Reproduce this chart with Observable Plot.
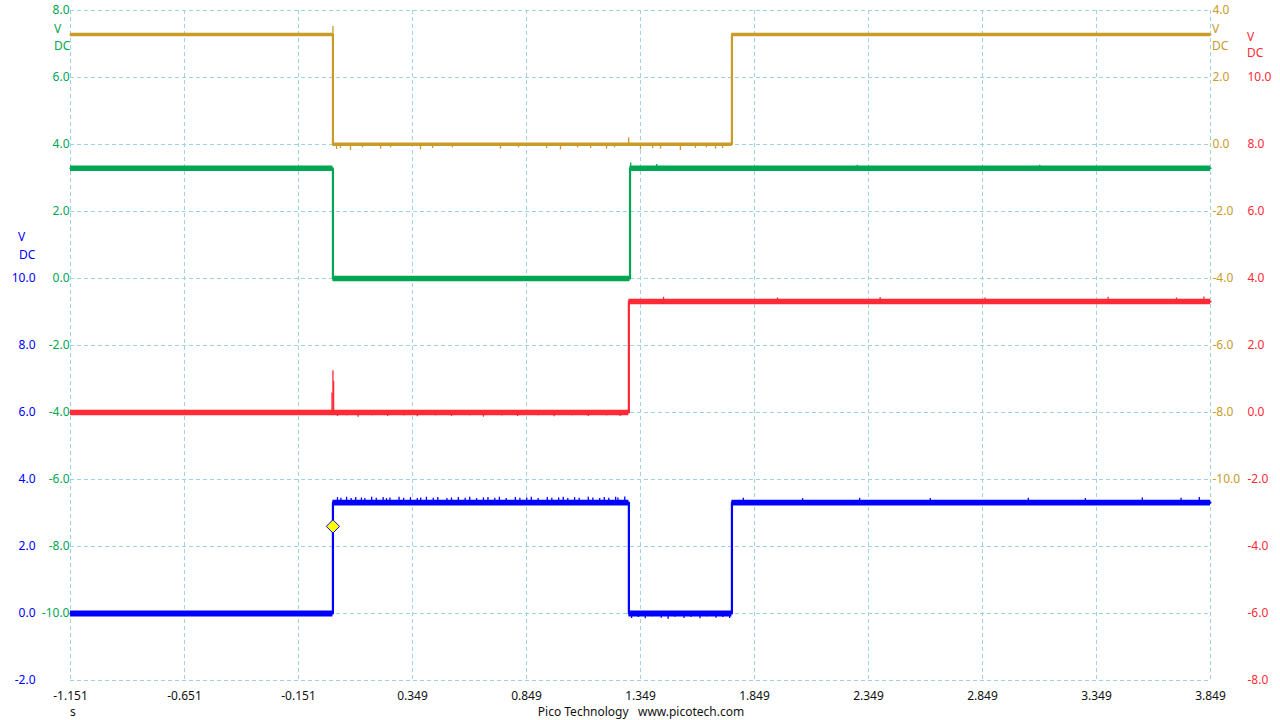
<!DOCTYPE html>
<html><head><meta charset="utf-8">
<script src="https://cdn.jsdelivr.net/npm/d3@7"></script>
<script src="https://cdn.jsdelivr.net/npm/@observablehq/plot@0.6"></script>
<style>
html,body{margin:0;padding:0;background:#fff;}
#chart{position:relative;width:1280px;height:720px;font-family:'Noto Sans','Open Sans',sans-serif;overflow:hidden;}
#chart svg{position:absolute;left:0;top:0;}
.lbl{position:absolute;font-size:12px;line-height:14px;white-space:pre;}
</style></head><body><div id="chart"></div>
<script>
// ---- axes / ticks ----
const timeTicks = [-1.151, -0.651, -0.151, 0.349, 0.849, 1.349, 1.849, 2.349, 2.849, 3.349, 3.849];
const blueTicks = [10, 8, 6, 4, 2, 0, -2];
const greenTicks = [8, 6, 4, 2, 0, -2, -4, -6, -8, -10];
const goldTicks = [4, 2, 0, -2, -4, -6, -8, -10];
const redTicks = [10, 8, 6, 4, 2, 0, -2, -4, -6, -8];
const gridBlue = [-2, 0, 2, 4, 6, 8, 10, 12, 14, 16, 18];

// ---- traces (time s, volts) ----
const goldT = [-1.151, 0.0, 0.0, 1.75, 1.75, 3.849];
const goldV = [3.28, 3.28, 0.01, 0.01, 3.28, 3.28];
const greenT = [-1.151, 0.0, 0.0, 1.303, 1.303, 3.849];
const greenV = [3.29, 3.29, 0.0, 0.0, 3.29, 3.29];
const redT = [-1.151, 1.298, 1.298, 3.849];
const redV = [0.0, 0.0, 3.31, 3.31];
const blueT = [-1.151, 0.0, 0.0, 1.298, 1.298, 1.75, 1.75, 3.849];
const blueV = [0.0, 0.0, 3.31, 3.31, 0.0, 0.0, 3.31, 3.31];

// ---- glitches / noise spikes ----
const goldSpikeT = [0.0, 0.016, 0.033, 0.077, 0.13, 0.209, 0.253, 0.384, 0.437, 0.524, 0.735, 0.814, 0.937, 0.998, 1.073, 1.13, 1.2, 1.235, 1.297, 1.349, 1.402, 1.437, 1.524, 1.59, 1.638, 1.678, 1.709];
const goldSpikeBase = [3.28, 0.01, 0.01, 0.01, 0.01, 0.01, 0.01, 0.01, 0.01, 0.01, 0.01, 0.01, 0.01, 0.01, 0.01, 0.01, 0.01, 0.01, 0.01, 0.01, 0.01, 0.01, 0.01, 0.01, 0.01, 0.01, 0.01];
const goldSpikeV = [3.52, -0.15, -0.12, -0.18, -0.1, -0.14, -0.1, -0.16, -0.12, -0.1, -0.14, -0.1, -0.12, -0.16, -0.1, -0.12, -0.14, -0.1, 0.2, -0.16, -0.12, -0.14, -0.18, -0.12, -0.1, -0.14, -0.12];
const greenSpikeT = [1.306, 1.42, 2.3, 3.1];
const greenSpikeV = [3.45, 3.4, 3.38, 3.38];
const redSpikeT = [-0.004, 0.0, 0.003, 0.02, 0.06, 0.11, 0.17, 0.24, 0.31, 0.37, 0.45, 0.52, 0.6, 0.66, 0.74, 0.81, 0.9, 0.97, 1.05, 1.12, 1.2, 1.26];
const redSpikeV = [0.58, 1.25, 0.93, -0.12, -0.1, -0.14, -0.1, -0.12, -0.1, -0.13, -0.1, -0.12, -0.1, -0.14, -0.1, -0.12, -0.1, -0.13, -0.1, -0.12, -0.1, -0.12];
const redHighSpikeT = [1.45, 1.95, 2.4, 2.86, 3.4, 3.7, 3.82];
const redHighSpikeV = [3.44, 3.42, 3.43, 3.42, 3.44, 3.42, 3.45];
const blueHighSpikeT = [0.02, 0.035, 0.06, 0.08, 0.1, 0.125, 0.14, 0.17, 0.19, 0.22, 0.235, 0.25, 0.29, 0.31, 0.34, 0.37, 0.385, 0.41, 0.44, 0.46, 0.5, 0.52, 0.55, 0.58, 0.6, 0.63, 0.66, 0.68, 0.71, 0.73, 0.76, 0.8, 0.82, 0.85, 0.87, 0.9, 0.94, 0.96, 0.99, 1.01, 1.03, 1.06, 1.08, 1.12, 1.14, 1.17, 1.19, 1.21, 1.24, 1.25, 1.28, 1.8, 2.06, 2.31, 2.62, 3.05, 3.3, 3.55, 3.72, 3.8];
const blueHighSpikeV = [3.46, 3.44, 3.47, 3.43, 3.46, 3.45, 3.43, 3.47, 3.44, 3.46, 3.43, 3.45, 3.47, 3.44, 3.46, 3.43, 3.45, 3.47, 3.44, 3.46, 3.43, 3.45, 3.46, 3.44, 3.47, 3.43, 3.45, 3.46, 3.44, 3.47, 3.43, 3.46, 3.44, 3.45, 3.47, 3.43, 3.46, 3.44, 3.45, 3.47, 3.43, 3.46, 3.44, 3.47, 3.45, 3.43, 3.46, 3.44, 3.47, 3.45, 3.48, 3.44, 3.43, 3.44, 3.43, 3.44, 3.43, 3.45, 3.44, 3.46];
const blueLowSpikeT = [1.31, 1.34, 1.37, 1.4, 1.44, 1.47, 1.5, 1.54, 1.57, 1.61, 1.64, 1.68, 1.71, 1.74];
const blueLowSpikeV = [-0.15, -0.12, -0.16, -0.1, -0.14, -0.17, -0.11, -0.15, -0.12, -0.16, -0.1, -0.14, -0.12, -0.15];
const trigT = [0.0];
const trigV = [2.6];

// ---- colours ----
const GOLD = "#c99b28", GREEN = "#00a651", RED = "#ff2a36", BLUE = "#0000ff", GRID = "#9fd3df";
const FONT = "'Noto Sans','Open Sans',sans-serif";

function pts(T, V) { return T.map((t, i) => ({t, v: V[i]})); }
function flats(T, V) {
  const s = [];
  for (let i = 0; i + 1 < T.length; i++) if (V[i] === V[i + 1]) s.push({t1: T[i], t2: T[i + 1], v: V[i]});
  return s;
}
function spikes(T, V, base) {
  return T.map((t, i) => ({t, v: V[i], b: Array.isArray(base) ? base[i] : base}));
}
function traceMarks(T, V, color, w) {
  return [
    Plot.line(pts(T, V), {x: "t", y: "v", stroke: color, strokeWidth: 2.2}),
    Plot.ruleY(flats(T, V), {y: "v", x1: "t1", x2: "t2", stroke: color, strokeWidth: w})
  ];
}
function spikeMarks(data, color) {
  return Plot.ruleX(data, {x: "t", y1: "b", y2: "v", stroke: color, strokeWidth: 1.3});
}
function layer(domain, marks) {
  return Plot.plot({
    width: 1280, height: 720,
    marginTop: 10, marginBottom: 40, marginLeft: 70, marginRight: 70,
    x: {domain: [-1.151, 3.849], axis: null},
    y: {domain, axis: null},
    style: {background: "transparent", fontFamily: FONT, fontSize: "12px", overflow: "visible"},
    marks
  });
}
const fmt1 = d => d.toFixed(1);

const base = layer([-2, 18], [
  Plot.ruleX(timeTicks, {x: d => d, stroke: GRID, strokeWidth: 1, strokeDasharray: "4,3"}),
  Plot.ruleY(gridBlue, {y: d => d, stroke: GRID, strokeWidth: 1, strokeDasharray: "4,3"}),
  Plot.axisX(timeTicks, {anchor: "bottom", tickSize: 0, tickPadding: 11, tickFormat: d => d.toFixed(3), fill: "#111", fontSize: 12, label: null}),
  Plot.axisY(blueTicks, {anchor: "left", tickSize: 0, tickPadding: 35, tickFormat: fmt1, fill: BLUE, fontSize: 12, label: null}),
  ...traceMarks(blueT, blueV, BLUE, 5.8),
  spikeMarks(spikes(blueHighSpikeT, blueHighSpikeV, 3.31), BLUE),
  spikeMarks(spikes(blueLowSpikeT, blueLowSpikeV, 0.0), BLUE)
]);
const redLayer = layer([-8, 12], [
  Plot.axisY(redTicks, {anchor: "right", tickSize: 0, tickPadding: 37, tickFormat: fmt1, fill: RED, fontSize: 12, label: null}),
  ...traceMarks(redT, redV, RED, 5.5),
  spikeMarks(spikes(redSpikeT, redSpikeV, 0.0), RED),
  spikeMarks(spikes(redHighSpikeT, redHighSpikeV, 3.31), RED)
]);
const greenLayer = layer([-12, 8], [
  Plot.axisY(greenTicks, {anchor: "left", tickSize: 0, tickPadding: 1, tickFormat: fmt1, fill: GREEN, fontSize: 12, label: null}),
  ...traceMarks(greenT, greenV, GREEN, 5.5),
  spikeMarks(spikes(greenSpikeT, greenSpikeV, 3.29), GREEN)
]);
const goldLayer = layer([-16, 4], [
  Plot.axisY(goldTicks, {anchor: "right", tickSize: 0, tickPadding: 2, tickFormat: fmt1, fill: GOLD, fontSize: 12, label: null}),
  ...traceMarks(goldT, goldV, GOLD, 3.5),
  spikeMarks(spikes(goldSpikeT, goldSpikeV, goldSpikeBase), GOLD)
]);
const trigLayer = layer([-2, 18], [
  Plot.dot(pts(trigT, trigV), {x: "t", y: "v", symbol: "diamond2", r: 6, fill: "#ffff00", stroke: BLUE, strokeWidth: 1})
]);

const chart = document.getElementById("chart");
[base, redLayer, greenLayer, goldLayer, trigLayer].forEach(s => chart.appendChild(s));

const labels = [
  {t: "V", x: 54, y: 22, c: GREEN}, {t: "DC", x: 54, y: 39, c: GREEN},
  {t: "V", x: 1212, y: 22, c: GOLD}, {t: "DC", x: 1212, y: 39, c: GOLD},
  {t: "V", x: 1247, y: 30, c: RED}, {t: "DC", x: 1247, y: 46, c: RED},
  {t: "V", x: 18, y: 230, c: BLUE}, {t: "DC", x: 19, y: 248, c: BLUE},
  {t: "s", x: 70, y: 705, c: "#111"}
];
labels.forEach(l => {
  const d = document.createElement("div");
  d.className = "lbl"; d.textContent = l.t;
  d.style.left = l.x + "px"; d.style.top = l.y + "px"; d.style.color = l.c;
  chart.appendChild(d);
});
const foot = document.createElement("div");
foot.className = "lbl";
foot.style.left = "0px"; foot.style.width = "1282px"; foot.style.top = "705px";
foot.style.textAlign = "center"; foot.style.color = "#111";
foot.textContent = "Pico Technology   www.picotech.com";
chart.appendChild(foot);
</script></body></html>
